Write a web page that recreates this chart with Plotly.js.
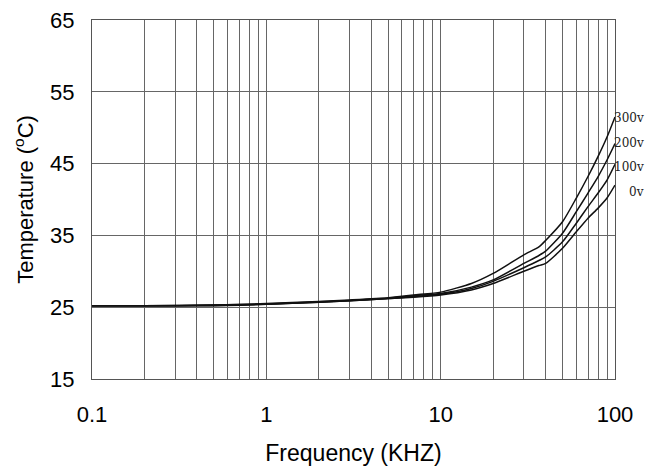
<!DOCTYPE html>
<html>
<head>
<meta charset="utf-8">
<script src="https://cdn.plot.ly/plotly-3.0.1.min.js"></script>
<style>html,body{margin:0;padding:0;background:#fff}#chart{width:661px;height:474px}</style>
</head>
<body>
<div id="chart"></div>
<script>
const freq = [0.1, 0.2, 0.5, 1, 2, 3, 5, 7, 10, 15, 20, 30, 36.6, 40, 50, 60, 70, 80, 90, 100];
const t0v   = [25.2, 25.2, 25.2, 25.4, 25.7, 25.9, 26.2, 26.4, 26.7, 27.4, 28.3, 30.0, 30.8, 31.1, 33.2, 35.5, 37.4, 38.8, 40.2, 42.0];
const t100v = [25.2, 25.2, 25.25, 25.4, 25.7, 25.9, 26.2, 26.5, 26.8, 27.6, 28.6, 30.5, 31.5, 32.0, 34.1, 36.7, 39.0, 40.9, 42.7, 44.9];
const t200v = [25.2, 25.2, 25.3, 25.45, 25.75, 25.95, 26.25, 26.6, 26.9, 27.8, 28.8, 31.1, 32.2, 32.8, 35.3, 38.3, 40.9, 43.2, 45.5, 47.8];
const t300v = [25.2, 25.2, 25.3, 25.5, 25.8, 26.0, 26.3, 26.7, 27.1, 28.3, 29.7, 32.3, 33.4, 34.3, 36.9, 40.2, 43.2, 46.0, 48.7, 51.5];
const seriesNames = ['0v', '100v', '200v', '300v'];
const seriesData = [t0v, t100v, t200v, t300v];
const labelShift = [-7, -3, 1, -1];
const xTicks = [0.1, 1, 10, 100];
const xTickText = ['0.1', '1', '10', '100'];
const yTicks = [15, 25, 35, 45, 55, 65];

const traces = seriesData.map((d, i) => ({
  x: freq, y: d, type: 'scatter', mode: 'lines', name: seriesNames[i],
  line: {color: '#111', width: 1.5, shape: 'spline', smoothing: 0.6}, hoverinfo: 'skip'
}));

const annotations = seriesData.map((d, i) => ({
  x: Math.log10(freq[freq.length - 1]), y: d[d.length - 1], xref: 'x', yref: 'y',
  text: seriesNames[i], showarrow: false, xanchor: 'right', yanchor: 'middle',
  xshift: 31, yshift: labelShift[i],
  font: {family: 'DejaVu Serif, Liberation Serif, serif', size: 12, color: '#222'}
}));

const layout = {
  width: 661, height: 474,
  margin: {l: 92, r: 46, t: 20, b: 95},
  paper_bgcolor: '#fff', plot_bgcolor: '#fff',
  showlegend: false,
  font: {family: 'Liberation Sans, Arial, sans-serif', color: '#000'},
  xaxis: {
    type: 'log', range: [-1, 2],
    tickvals: xTicks, ticktext: xTickText, ticks: '',
    tickfont: {size: 22}, ticklabelstandoff: 16,
    showgrid: true, gridcolor: '#666', gridwidth: 1,
    minor: {showgrid: true, gridcolor: '#666', gridwidth: 1, dtick: 'D1', ticks: ''},
    showline: true, mirror: true, linecolor: '#555', linewidth: 1,
    zeroline: false,
    title: {text: 'Frequency (KHZ)', font: {size: 23}, standoff: 18}
  },
  yaxis: {
    range: [15, 65], tickvals: yTicks, ticks: '',
    tickfont: {size: 22}, ticklabelstandoff: 12,
    showgrid: true, gridcolor: '#666', gridwidth: 1,
    showline: true, mirror: true, linecolor: '#555', linewidth: 1,
    zeroline: false,
    title: {text: 'Temperature (<sup>o</sup>C)', font: {size: 22}, standoff: 10}
  },
  annotations: annotations
};

Plotly.newPlot('chart', traces, layout, {staticPlot: true, displayModeBar: false});
</script>
</body>
</html>
